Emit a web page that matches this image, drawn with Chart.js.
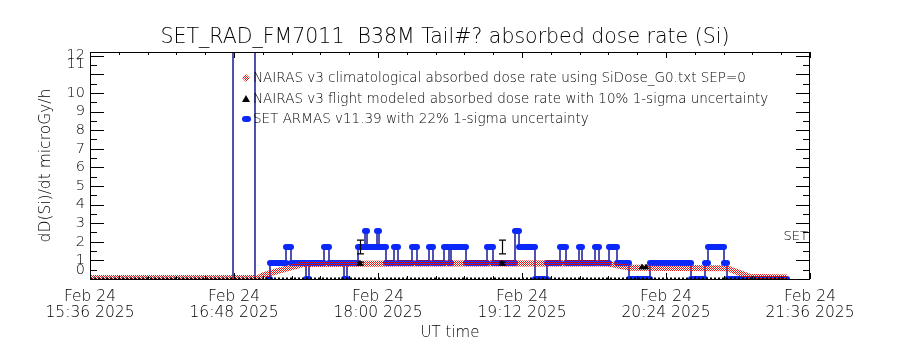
<!DOCTYPE html>
<html>
<head>
<meta charset="utf-8">
<script src="https://cdn.jsdelivr.net/npm/chart.js@4.4.1/dist/chart.umd.min.js"></script>
<style>
  html, body { margin: 0; padding: 0; background: #fff; }
  #wrap { width: 900px; height: 350px; }
</style>
</head>
<body>
<div id="wrap"><canvas id="dose" width="900" height="350"></canvas></div>
<script>
// x values are minutes after 15:36 UT, Feb 24 2025
const xTickVals = [0, 72, 144, 216, 288, 360];
const xTickText = ['15:36 2025', '16:48 2025', '18:00 2025', '19:12 2025', '20:24 2025', '21:36 2025'];
const yTickVals = [0.46, 1, 2, 3, 4, 5, 6, 7, 8, 9, 10, 11.53, 12];
const yTickText = ['0', '1', '2', '3', '4', '5', '6', '7', '8', '9', '10', '11', '12'];

// NAIRAS v3 climatological
const nairasT = [0, 84, 86.5, 94.5, 106.5, 160, 258.5, 270, 318.5, 330, 348.5];
const nairasV = [0.05, 0.05, 0.2, 0.45, 0.8, 0.83, 0.84, 0.6, 0.58, 0.12, 0.08];

// NAIRAS v3 flight modeled
const flightT = [135, 206, 276, 278];
const flightV = [0.83, 0.83, 0.63, 0.63];
const flightErr = [0.08, 0.08, 0.06, 0.06];
const flightZeroT = [0, 348.5];
const flightZeroV = [0, 0];

// SET ARMAS v11.39, held levels
const armasStart = [89, 90, 98, 100.5, 108, 109.5, 117, 119.5, 127, 128.5, 134, 137.5, 138.5, 143.5, 144.5, 148, 152, 154, 161, 163.5,
  169.5, 171.5, 177, 179.5, 180.5, 188, 198.5, 201.5, 212.5, 214.5, 222.5, 228.5, 235, 238, 244.5, 246, 252.5, 254.5, 259.5, 263.5,
  269.5, 280, 300.5, 307.5, 309, 317, 318.5];
const armasEnd = [90, 98, 100.5, 108, 109.5, 117, 119.5, 127, 128.5, 134, 137.5, 138.5, 143.5, 144.5, 148, 152, 154, 161, 163.5, 169.5,
  171.5, 177, 179.5, 180.5, 188, 198.5, 201.5, 212.5, 214.5, 222.5, 228.5, 235, 238, 244.5, 246, 252.5, 254.5, 259.5, 263.5, 269.5,
  280, 300.5, 307.5, 309, 317, 318.5, 348.5];
const armasLevel = [0, 0.86, 1.72, 0.86, 0, 0.86, 1.72, 0.86, 0, 0.86, 1.72, 2.58, 1.72, 2.58, 1.72, 0.86, 1.72, 0.86, 1.72, 0.86,
  1.72, 0.86, 1.72, 0.86, 1.72, 0.86, 1.72, 0.86, 2.58, 1.72, 0, 0.86, 1.72, 0.86, 1.72, 0.86, 1.72, 0.86, 1.72, 0.86,
  0, 0.86, 0, 0.86, 1.72, 0.86, 0];
const armasSpikeT = [71.5, 82.5];
const armasSpikeV = [40, 40];
const armasErrT = [135, 206];
const armasErrV = [1.72, 1.72];
const armasErr = [0.37, 0.37];

const canvas = document.getElementById('dose');
const ctx = canvas.getContext('2d');

function checker(color) {
  let c = document.createElement('canvas');
  c.width = 2; c.height = 2;
  let g = c.getContext('2d');
  g.fillStyle = color;
  g.fillRect(0, 0, 1, 1);
  g.fillRect(1, 1, 1, 1);
  return ctx.createPattern(c, 'repeat');
}
const redCheck = checker('rgb(228,22,22)');
const FONT = "'DejaVu Sans', 'Liberation Sans', sans-serif";

let whiteBg = {
  id: 'whiteBg',
  beforeDraw(chart) {
    let c = chart.ctx;
    c.save();
    c.fillStyle = '#fff';
    c.fillRect(0, 0, chart.width, chart.height);
    c.restore();
  }
};

let errorBars = {
  id: 'errorBars',
  afterDatasetsDraw(chart) {
    let c = chart.ctx, x = chart.scales.x, y = chart.scales.y;
    c.save();
    c.strokeStyle = '#000';
    c.lineWidth = 1.2;
    let bar = (t, v, e) => {
      let px = Math.round(x.getPixelForValue(t)) + 0.5;
      let top = y.getPixelForValue(v + e), bot = y.getPixelForValue(v - e);
      c.beginPath();
      c.moveTo(px, top); c.lineTo(px, bot);
      c.moveTo(px - 3.5, top); c.lineTo(px + 3.5, top);
      c.moveTo(px - 3.5, bot); c.lineTo(px + 3.5, bot);
      c.stroke();
    };
    armasErrT.forEach((t, i) => bar(t, armasErrV[i], armasErr[i]));
    flightT.slice(0, 2).forEach((t, i) => bar(t, flightV[i], flightErr[i]));
    c.restore();
  }
};

let frameAndText = {
  id: 'frameAndText',
  afterDraw(chart) {
    let c = chart.ctx, a = chart.chartArea, x = chart.scales.x, y = chart.scales.y;
    c.save();
    c.strokeStyle = '#000';
    c.lineWidth = 1;
    c.beginPath();
    for (let v = 0; v <= 12; v += 0.5) {
      let py = Math.round(y.getPixelForValue(v)) + 0.5;
      let len = v % 1 === 0 ? 14 : 7;
      c.moveTo(a.left, py); c.lineTo(a.left + len, py);
      c.moveTo(a.right, py); c.lineTo(a.right - len, py);
    }
    for (let k = 0; k <= 25; k++) {
      let px = Math.round(x.getPixelForValue(k * 14.4)) + 0.5;
      let len = k % 5 === 0 ? 6 : 3;
      c.moveTo(px, a.bottom); c.lineTo(px, a.bottom - len);
      c.moveTo(px, a.top); c.lineTo(px, a.top + len);
    }
    c.stroke();
    c.strokeRect(a.left + 0.5, a.top + 0.5, a.right - a.left - 1, a.bottom - a.top);

    c.fillStyle = '#000';
    c.textBaseline = 'middle';
    c.textAlign = 'center';
    c.font = '200 20.5px ' + FONT;
    c.fillText('SET_RAD_FM7011  B38M Tail#? absorbed dose rate (Si)', 445, 38);

    // legend
    c.textAlign = 'left';
    c.font = '200 13.5px ' + FONT;
    let rows = [78, 99, 119];
    c.fillText('NAIRAS v3 climatological absorbed dose rate using SiDose_G0.txt SEP=0', 253, rows[0]);
    c.fillText('NAIRAS v3 flight modeled absorbed dose rate with 10% 1-sigma uncertainty', 253, rows[1]);
    c.fillText('SET ARMAS v11.39 with 22% 1-sigma uncertainty', 253, rows[2]);
    c.fillStyle = redCheck;
    c.beginPath();
    c.moveTo(246, rows[0] - 4); c.lineTo(250, rows[0]); c.lineTo(246, rows[0] + 4); c.lineTo(242, rows[0]);
    c.closePath(); c.fill();
    c.fillStyle = '#000';
    c.beginPath();
    c.moveTo(246, rows[1] - 4); c.lineTo(250, rows[1] + 3); c.lineTo(242, rows[1] + 3);
    c.closePath(); c.fill();
    c.strokeStyle = 'rgb(10,40,250)';
    c.lineWidth = 6;
    c.lineCap = 'round';
    c.beginPath();
    c.moveTo(245, rows[2]); c.lineTo(248, rows[2]);
    c.stroke();

    c.fillStyle = '#000';
    c.textAlign = 'right';
    c.font = '200 13px ' + FONT;
    c.fillText('SET', a.right - 2, y.getPixelForValue(2.3));
    c.restore();
  }
};

let datasets = [
  {
    label: 'NAIRAS v3 flight modeled zero',
    data: flightZeroT.map((t, i) => ({x: t, y: flightZeroV[i]})),
    borderColor: '#000', borderWidth: 3, borderDash: [2, 2], pointRadius: 0, order: 0
  },
  {
    label: 'NAIRAS v3 flight modeled',
    data: flightT.map((t, i) => ({x: t, y: flightV[i]})),
    showLine: false, pointStyle: 'triangle', pointRadius: 3,
    backgroundColor: '#000', borderColor: '#000', order: 0
  },
  {
    label: 'NAIRAS v3 climatological',
    data: nairasT.map((t, i) => ({x: t, y: nairasV[i]})),
    borderColor: redCheck, borderWidth: 6, pointRadius: 0,
    borderJoinStyle: 'round', clip: {left: 8, right: 8, top: 8, bottom: 0}, order: 1
  },
  {
    label: 'SET ARMAS levels',
    data: armasStart.flatMap((s, i) => [{x: s, y: armasLevel[i]}, {x: armasEnd[i], y: armasLevel[i]}, {x: armasEnd[i], y: null}]),
    borderColor: 'rgb(10,40,250)', borderWidth: 6, borderCapStyle: 'round', pointRadius: 0,
    spanGaps: false, clip: {left: 8, right: 8, top: 8, bottom: 1}, order: 3
  },
  {
    label: 'SET ARMAS',
    data: armasStart.flatMap((s, i) => [{x: s, y: armasLevel[i]}, {x: armasEnd[i], y: armasLevel[i]}]),
    borderColor: 'rgb(25,25,150)', borderWidth: 1.5, pointRadius: 0, order: 4
  },
  {
    label: 'SET ARMAS spikes',
    data: armasSpikeT.flatMap((t, i) => [{x: t, y: 0}, {x: t, y: armasSpikeV[i]}, {x: t, y: null}]),
    borderColor: 'rgb(25,25,150)', borderWidth: 1.5, pointRadius: 0, spanGaps: false, clip: 0, order: 4
  }
];

new Chart(ctx, {
  type: 'line',
  data: { datasets: datasets },
  options: {
    responsive: false,
    animation: false,
    events: [],
    layout: { padding: { left: 0, right: 90, top: 52, bottom: 0 } },
    plugins: { legend: { display: false }, tooltip: { enabled: false } },
    scales: {
      x: {
        type: 'linear', min: 0, max: 360,
        afterBuildTicks: s => { s.ticks = xTickVals.map(v => ({value: v})); },
        afterFit: s => { s.height = 71; },
        grid: { display: false, drawTicks: false },
        border: { display: false },
        ticks: {
          autoSkip: false, maxRotation: 0, padding: 10, color: '#000',
          font: { family: FONT, size: 15.5, weight: 200, lineHeight: '16px' },
          callback: (v, i) => ['Feb 24', xTickText[i]]
        },
        title: {
          display: true, text: 'UT time', color: '#000',
          font: { family: FONT, size: 15, weight: 200, lineHeight: '18px' },
          padding: { top: 0, bottom: 8 }
        }
      },
      y: {
        type: 'linear', min: 0, max: 12.2,
        afterBuildTicks: s => { s.ticks = yTickVals.map(v => ({value: v})); },
        afterFit: s => { s.width = 90; },
        grid: { display: false, drawTicks: false },
        border: { display: false },
        ticks: {
          autoSkip: false, padding: 5, color: '#000',
          font: { family: FONT, size: 14.5, weight: 200 },
          callback: (v, i) => yTickText[i]
        },
        title: {
          display: true, text: 'dD(Si)/dt microGy/h', color: '#000',
          font: { family: FONT, size: 15.5, weight: 200, lineHeight: '18px' },
          padding: { top: 37, bottom: 0 }
        }
      }
    }
  },
  plugins: [whiteBg, errorBars, frameAndText]
});
</script>
</body>
</html>
